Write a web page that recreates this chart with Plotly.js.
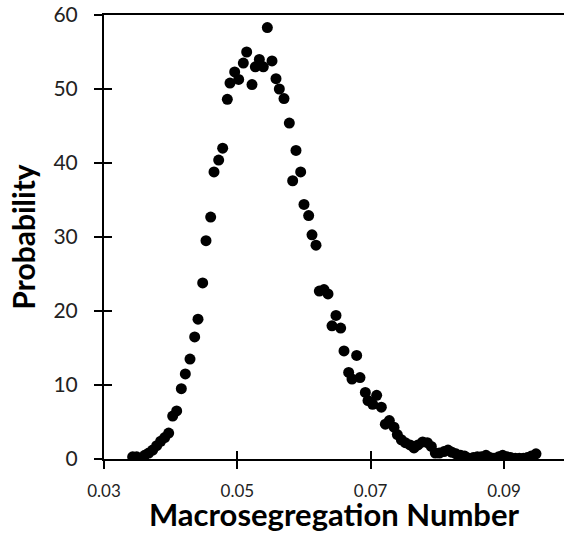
<!DOCTYPE html>
<html>
<head>
<meta charset="utf-8">
<script src="https://cdn.plot.ly/plotly-3.0.1.min.js"></script>
<style>html,body{margin:0;padding:0;background:#fff}#chart{width:564px;height:533px}</style>
</head>
<body>
<div id="chart"></div>
<script>
// Macrosegregation number (x) and probability (y)
const macroNumber = [
  0.0343, 0.0349, 0.0355, 0.0361, 0.0367, 0.0373, 0.0379, 0.0385, 0.0391, 0.0397,
  0.0403, 0.0409, 0.0416, 0.0422, 0.0429, 0.0436, 0.0441, 0.0448, 0.0453, 0.0460,
  0.0465, 0.0472, 0.0478, 0.0485, 0.0489, 0.0496, 0.0502, 0.0509, 0.0514, 0.0522,
  0.0527, 0.0533, 0.0539, 0.0545, 0.0552, 0.0558, 0.0563, 0.0570, 0.0578, 0.0583,
  0.0588, 0.0595, 0.0600, 0.0607, 0.0612, 0.0618, 0.0623, 0.0630, 0.0636, 0.0642,
  0.0648, 0.0655, 0.0660, 0.0667, 0.0672, 0.0679, 0.0684, 0.0692, 0.0696, 0.0703,
  0.0709, 0.0716, 0.0722, 0.0728, 0.0735, 0.0740, 0.0746, 0.0752, 0.0759, 0.0765,
  0.0771, 0.0778, 0.0785, 0.0791, 0.0797, 0.0803, 0.0810, 0.0816, 0.0822, 0.0828,
  0.0835, 0.0841, 0.0847, 0.0854, 0.0860, 0.0866, 0.0873, 0.0879, 0.0885, 0.0892,
  0.0898, 0.0904, 0.0910, 0.0917, 0.0923, 0.0929, 0.0935, 0.0941, 0.0948
];
const probability = [
  0.3, 0.3, 0.1, 0.5, 0.8, 1.2, 1.8, 2.4, 2.9, 3.5,
  5.8, 6.5, 9.5, 11.5, 13.5, 16.5, 18.9, 23.8, 29.5, 32.7,
  38.8, 40.4, 42.0, 48.6, 50.8, 52.3, 51.3, 53.5, 55.0, 50.6,
  53.0, 54.0, 53.0, 58.3, 53.8, 51.4, 50.0, 48.7, 45.4, 37.6,
  41.7, 38.8, 34.4, 32.9, 30.3, 28.9, 22.7, 22.9, 22.3, 18.0,
  19.4, 17.7, 14.6, 11.7, 10.8, 14.0, 11.0, 9.0, 7.9, 7.4,
  8.6, 7.0, 4.7, 5.2, 4.3, 3.3, 2.6, 2.2, 1.9, 1.5,
  1.9, 2.3, 2.2, 1.7, 0.8, 0.8, 1.0, 1.2, 0.9, 0.7,
  0.5, 0.4, 0.1, 0.2, 0.3, 0.3, 0.5, 0.2, 0.1, 0.3,
  0.5, 0.3, 0.2, 0.1, 0.1, 0.1, 0.2, 0.4, 0.7
];
const xTickVals = [0.03, 0.05, 0.07, 0.09];
const xTickText = ["0.03", "0.05", "0.07", "0.09"];
const yTickVals = [0, 10, 20, 30, 40, 50, 60];

const xRange = [0.03, 0.0990];
const yRange = [0, 60];
const FONT = "Lato, 'Open Sans', sans-serif";

const traces = [
  {
    type: "scatter", mode: "markers",
    x: macroNumber, y: probability,
    marker: {color: "#000", size: 11, line: {width: 0}},
    hoverinfo: "x+y", showlegend: false
  },
  { type: "scatter", mode: "markers", x: [], y: [], xaxis: "x2", yaxis: "y2", showlegend: false, hoverinfo: "skip" }
];

const baseX = {
  range: xRange, showgrid: false, zeroline: false,
  tickvals: xTickVals, ticktext: xTickText,
  showline: true, linecolor: "#000", linewidth: 2,
  ticklen: 8, tickwidth: 2, tickcolor: "#000"
};
const baseY = {
  range: yRange, showgrid: false, zeroline: false,
  tickvals: yTickVals,
  showline: true, linecolor: "#000", linewidth: 2,
  ticklen: 8, tickwidth: 2, tickcolor: "#000"
};

const layout = {
  width: 564, height: 533,
  margin: {l: 104, r: 0, t: 15, b: 74, pad: 0},
  paper_bgcolor: "#fff", plot_bgcolor: "#fff",
  font: {family: FONT, color: "#000"},
  showlegend: false,
  xaxis: Object.assign({}, baseX, {
    ticks: "outside", mirror: true,
    tickfont: {family: FONT, size: 17, color: "#222"},
    ticklabelstandoff: 8,
    title: {text: "Macrosegregation Number", font: {family: FONT, size: 31, color: "#000", weight: "bold"}, standoff: 5}
  }),
  yaxis: Object.assign({}, baseY, {
    ticks: "outside",
    tickfont: {family: FONT, size: 21, color: "#222"},
    ticklabelstandoff: 12,
    title: {text: "Probability", font: {family: FONT, size: 30, color: "#000", weight: "bold"}, standoff: 9}
  }),
  xaxis2: Object.assign({}, baseX, {
    overlaying: "x", anchor: "y2", side: "bottom", ticks: "inside", showticklabels: false
  }),
  yaxis2: Object.assign({}, baseY, {
    overlaying: "y", anchor: "x2", side: "left", ticks: "inside", showticklabels: false
  })
};

Plotly.newPlot("chart", traces, layout, {displayModeBar: false, staticPlot: true});
</script>
</body>
</html>
